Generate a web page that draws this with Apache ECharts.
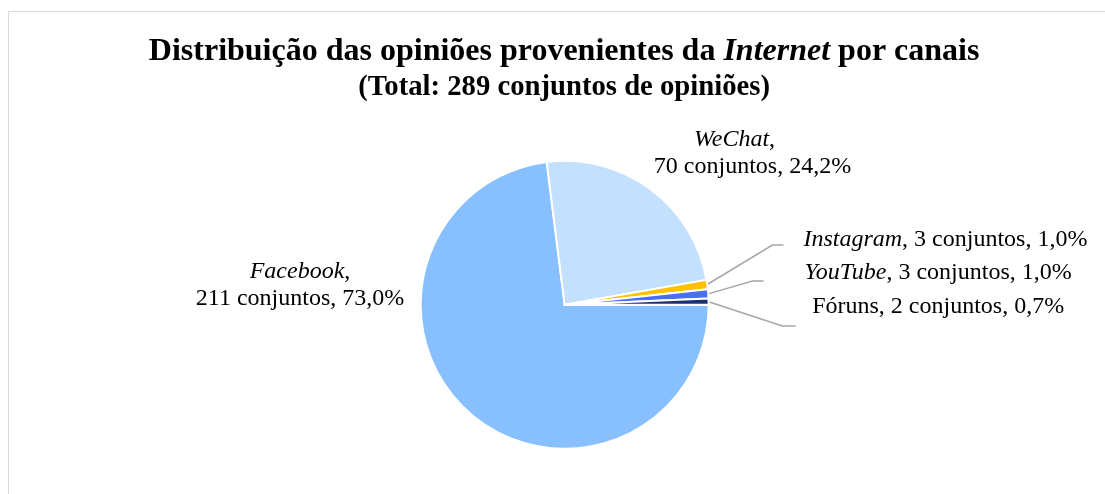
<!DOCTYPE html>
<html><head><meta charset="utf-8">
<script src="https://cdn.jsdelivr.net/npm/echarts@6/dist/echarts.min.js"></script>
<style>html,body{margin:0;padding:0;background:#fff}#c{width:1105px;height:494px}</style>
</head><body><div id="c"></div>
<script>
const channels = ['Facebook', 'WeChat', 'Instagram', 'YouTube', 'Fóruns'];
const italicName = [true, true, true, true, false];
const counts = [211, 70, 3, 3, 2];
const percents = ['73,0%', '24,2%', '1,0%', '1,0%', '0,7%'];
const titleText = 'Distribuição das opiniões provenientes da {i|Internet} por canais';
const subtitleText = '(Total: 289 conjuntos de opiniões)';
const colors = ['#88C0FF', '#C3E0FF', '#FFC000', '#4A6EF0', '#1A2F6E'];

const serif = '"Liberation Serif","Times New Roman",serif';
const chart = echarts.init(document.getElementById('c'));

// label placement (fractions of chart size) and two-line flags
const labelPlace = [
  {x: 0.2715, y: 0.578, two: true, pad: 0},
  {x: 0.681, y: 0.311, two: true, pad: 36},
  {x: 0.8556, y: 0.486, two: false, pad: 0},
  {x: 0.849, y: 0.553, two: false, pad: 0},
  {x: 0.849, y: 0.621, two: false, pad: 0}
];
const elbow = [null, null, [0.699, 0.496], [0.681, 0.569], [0.708, 0.660]];
const lineEnd = [null, null, [0.709, 0.496], [0.691, 0.569], [0.720, 0.660]];

const data = channels.map((n, i) => ({
  name: n,
  value: counts[i],
  itemStyle: {color: colors[i]},
  label: {
    formatter: (italicName[i] ? '{i|' + n + '}' : '{n|' + n + '}') +
      (labelPlace[i].two ? '{c|,}\n{n|' : '{n|, ') + counts[i] + ' conjuntos, ' + percents[i] + '}',
    rich: {c: {fontFamily: serif, fontSize: 24, color: '#000', lineHeight: 27, padding: [0, labelPlace[i].pad, 0, 0]}}
  },
  labelLine: {show: !labelPlace[i].two}
}));

chart.setOption({
  backgroundColor: '#fff',
  animation: false,
  graphic: [{
    type: 'rect', shape: {x: 8.5, y: 11.5, width: 1200, height: 600},
    style: {fill: 'none', stroke: '#D9D9D9', lineWidth: 1}, silent: true
  }],
  title: {
    text: titleText,
    subtext: subtitleText,
    left: '50.6%', textAlign: 'center', top: 31, itemGap: 6,
    textStyle: {
      fontFamily: serif, fontWeight: 'bold', fontSize: 32, lineHeight: 32, color: '#000',
      rich: {i: {fontFamily: serif, fontWeight: 'bold', fontStyle: 'italic', fontSize: 32, lineHeight: 32, color: '#000'}}
    },
    subtextStyle: {fontFamily: serif, fontWeight: 'bold', fontSize: 28.7, lineHeight: 28, color: '#000'}
  },
  series: [{
    type: 'pie',
    center: ['51.1%', '61.7%'],
    radius: 144,
    startAngle: 0,
    clockwise: true,
    avoidLabelOverlap: false,
    itemStyle: {borderColor: '#fff', borderWidth: 2},
    label: {
      show: true, position: 'outside', color: '#000', lineHeight: 27,
      fontFamily: serif, fontSize: 24, align: 'center',
      rich: {
        i: {fontFamily: serif, fontSize: 24, fontStyle: 'italic', color: '#000', lineHeight: 27},
        n: {fontFamily: serif, fontSize: 24, color: '#000', lineHeight: 27}
      }
    },
    labelLine: {lineStyle: {color: '#A6A6A6', width: 1.5}, length: 10, length2: 10},
    labelLayout: function (p) {
      const W = chart.getWidth(), H = chart.getHeight();
      const i = p.dataIndex;
      const res = {x: labelPlace[i].x * W, y: labelPlace[i].y * H, align: 'center', verticalAlign: 'middle'};
      if (elbow[i] && p.labelLinePoints) {
        const s = p.labelLinePoints[0];
        res.labelLinePoints = [s, [elbow[i][0] * W, elbow[i][1] * H], [lineEnd[i][0] * W, lineEnd[i][1] * H]];
      }
      return res;
    },
    data: data
  }]
});
</script></body></html>
